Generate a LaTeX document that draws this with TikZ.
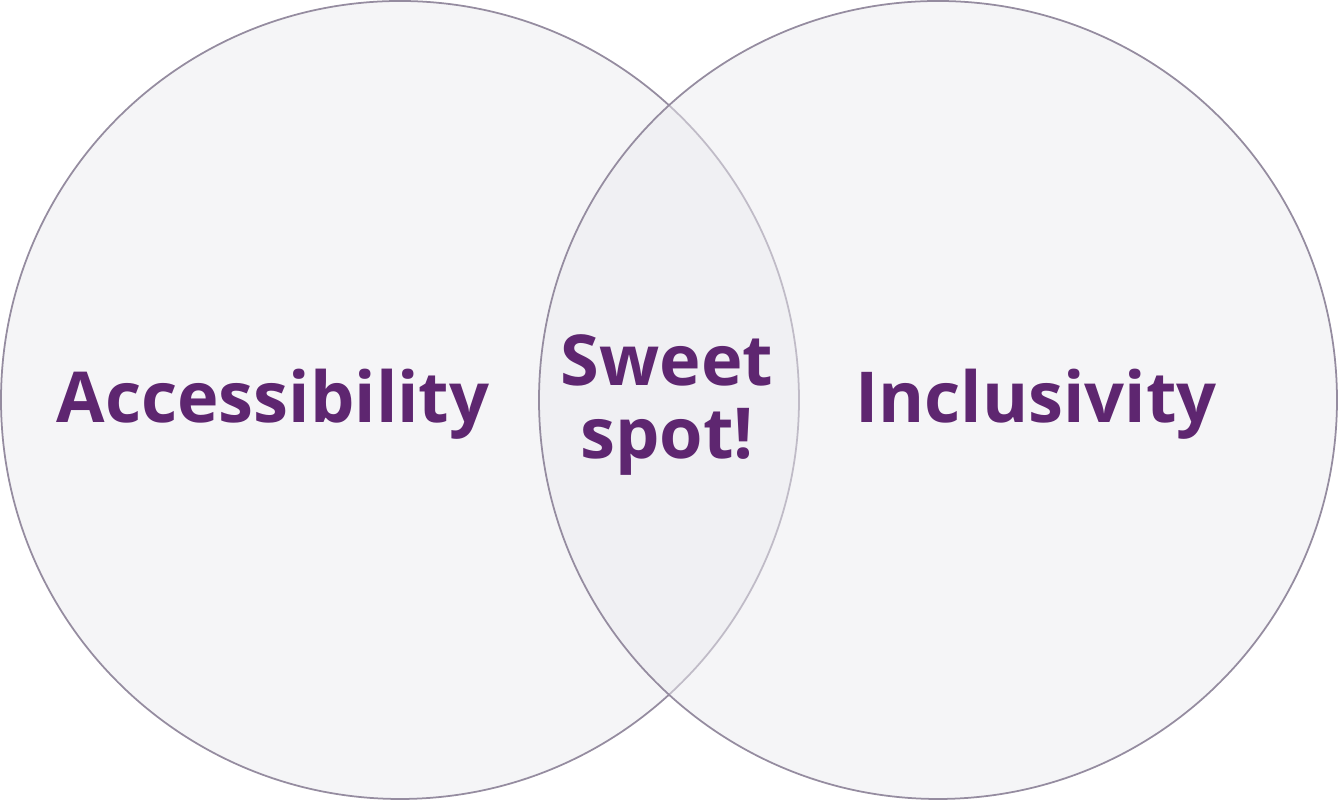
\documentclass[tikz,border=0pt]{standalone}
\usepackage{fontspec}
\setmainfont{Open Sans}
\usepackage{xcolor}
\usepackage{tikz}
\definecolor{roxo}{HTML}{5E2670}
\definecolor{contorno}{HTML}{958CA0}
\definecolor{preenche}{HTML}{EBEBEF}
\tikzset{
  conjunto/.style={draw=contorno, line width=0.5pt, fill=preenche, fill opacity=0.5, text opacity=1},
  rotulo/.style={text=roxo, font=\fontsize{20}{25}\selectfont\bfseries, align=center, inner sep=0pt},
}

\begin{document}
\begin{tikzpicture}
  \useasboundingbox (0,0) rectangle (13.38,8);
  \path[conjunto] (4,4) circle (3.99);
  \path[conjunto] (9.38,4) circle (3.99);

  \node[rotulo] (acc) at (2.73,3.96) {Accessibility};
  \node[rotulo] (inc) at (10.36,3.96) {Inclusivity};
  \node[rotulo, font=\fontsize{20}{20.5}\selectfont\bfseries] (doce) at (6.67,3.95) {Sweet\\spot!};
\end{tikzpicture}
\end{document}
